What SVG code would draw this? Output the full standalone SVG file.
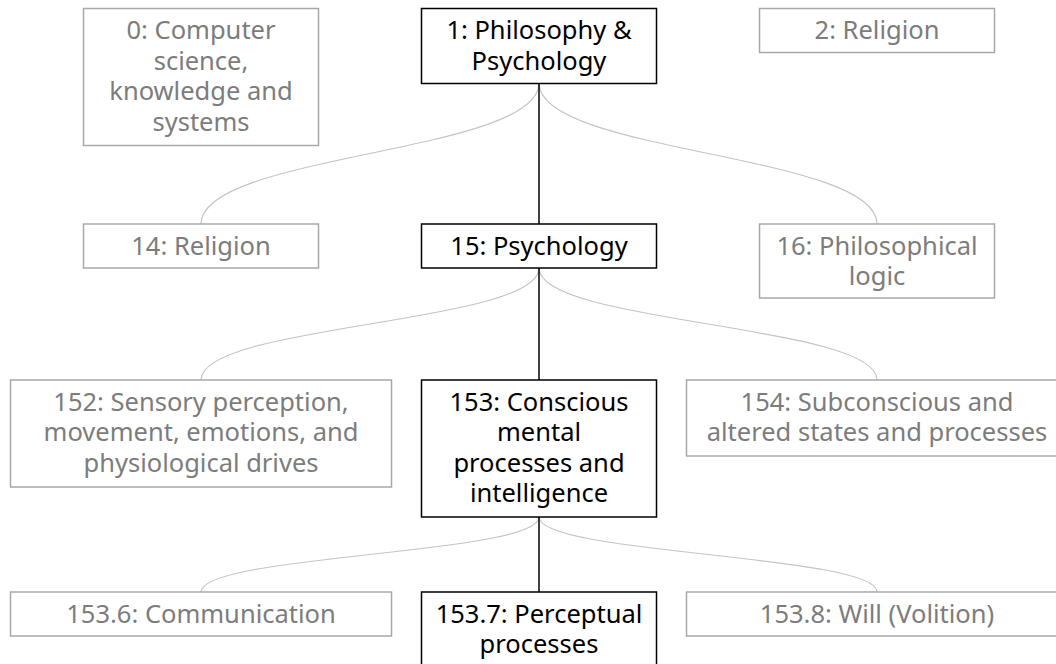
<svg xmlns="http://www.w3.org/2000/svg" width="1056" height="664" viewBox="0 0 1056 664">
<style>
text{font-family:"Noto Sans","Open Sans",sans-serif;font-size:25.5px;text-anchor:middle}
.g rect{fill:#fff;stroke:#a8a8a8;stroke-width:1.5}
.g text{fill:#7c7c7c}
.b rect{fill:#fff;stroke:#000;stroke-width:1.5}
.b text{fill:#000}
.c{fill:none;stroke:#c4c4c4;stroke-width:1.2}
.s{fill:none;stroke:#000;stroke-width:1.5}
</style>
<rect width="1056" height="664" fill="#fff"/>
<g id="connectors">
<path class="c" d="M539,83 C539,153.5 201,153.5 201,224"/>
<path class="c" d="M539,83 C539,153.5 877,153.5 877,224"/>
<path class="s" d="M539,83 V224"/>
<path class="c" d="M539,268 C539,324 201,324 201,380"/>
<path class="c" d="M539,268 C539,324 877,324 877,380"/>
<path class="s" d="M539,268 V380"/>
<path class="c" d="M539,517 C539,554.5 201,554.5 201,592"/>
<path class="c" d="M539,517 C539,554.5 877,554.5 877,592"/>
<path class="s" d="M539,517 V592"/>
</g>
<g id="n0" class="g"><rect x="83.5" y="8.5" width="235" height="137"/>
<text x="201" y="39">0: Computer</text><text x="201" y="69.5">science,</text><text x="201" y="100">knowledge and</text><text x="201" y="130.5">systems</text></g>
<g id="n1" class="b"><rect x="421.5" y="8.5" width="235" height="75"/>
<text x="539" y="39">1: Philosophy &amp;</text><text x="539" y="69.5">Psychology</text></g>
<g id="n2" class="g"><rect x="759.5" y="8.5" width="235" height="44"/>
<text x="877" y="39">2: Religion</text></g>
<g id="n14" class="g"><rect x="83.5" y="224" width="235" height="44"/>
<text x="201" y="254.5">14: Religion</text></g>
<g id="n15" class="b"><rect x="421.5" y="224" width="235" height="44"/>
<text x="539" y="254.5">15: Psychology</text></g>
<g id="n16" class="g"><rect x="759.5" y="224" width="235" height="74"/>
<text x="877" y="254.5">16: Philosophical</text><text x="877" y="285">logic</text></g>
<g id="n152" class="g"><rect x="10.5" y="380" width="381" height="107"/>
<text x="201" y="410.5">152: Sensory perception,</text><text x="201" y="441">movement, emotions, and</text><text x="201" y="471.5">physiological drives</text></g>
<g id="n153" class="b"><rect x="421.5" y="380" width="235" height="137"/>
<text x="539" y="410.5">153: Conscious</text><text x="539" y="441">mental</text><text x="539" y="471.5">processes and</text><text x="539" y="502">intelligence</text></g>
<g id="n154" class="g"><rect x="686.5" y="380" width="381" height="76"/>
<text x="877" y="410.5">154: Subconscious and</text><text x="877" y="441">altered states and processes</text></g>
<g id="n153_6" class="g"><rect x="10.5" y="592" width="381" height="44"/>
<text x="201" y="622.5">153.6: Communication</text></g>
<g id="n153_7" class="b"><rect x="421.5" y="592" width="235" height="76"/>
<text x="539" y="622.5">153.7: Perceptual</text><text x="539" y="653">processes</text></g>
<g id="n153_8" class="g"><rect x="686.5" y="592" width="381" height="44"/>
<text x="877" y="622.5">153.8: Will (Volition)</text></g>
</svg>
